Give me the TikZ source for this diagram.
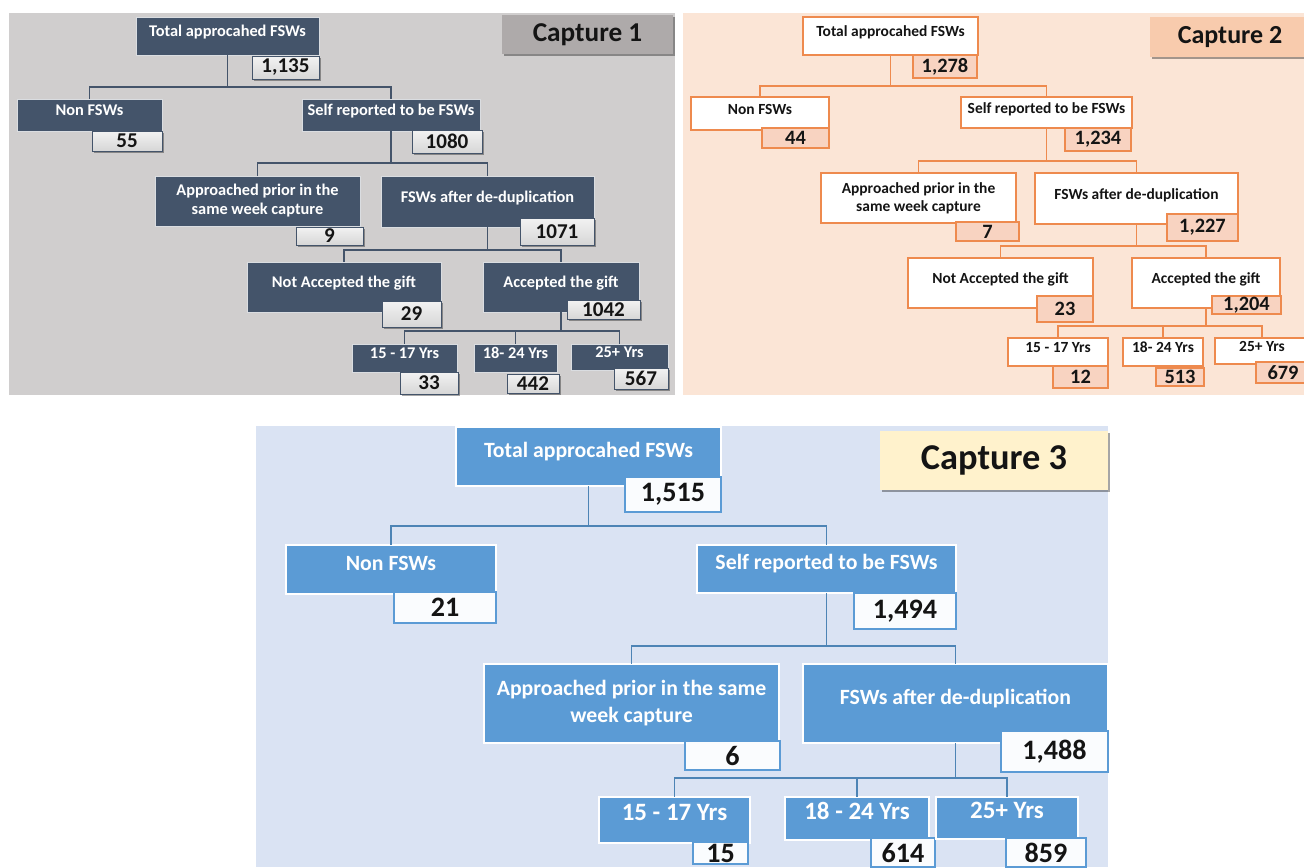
\documentclass[tikz,border=0pt]{standalone}
\usepackage{fontspec}
\setmainfont{Carlito}
\usetikzlibrary{shadows}
\definecolor{Slate}{HTML}{44546A}
\definecolor{GreyBg}{HTML}{D0CECE}
\definecolor{GreyTag}{HTML}{AEAAAA}
\definecolor{Peach}{HTML}{FBE5D6}
\definecolor{PeachNum}{HTML}{F8D3C1}
\definecolor{PeachTag}{HTML}{F8CBAD}
\definecolor{Orange}{HTML}{EE8A4E}
\definecolor{SkyBg}{HTML}{DAE3F3}
\definecolor{Sky}{HTML}{5B9BD5}
\definecolor{Cream}{HTML}{FFF2CC}
\definecolor{Ink}{HTML}{141414}

\begin{document}
\begin{tikzpicture}[
        x=0.02cm, y=-0.02cm,
        wh/.style 2 args={minimum width=#1*0.02cm, minimum height=#2*0.02cm},
        every node/.style={anchor=north west, inner sep=0.5pt, outer sep=0pt},
        shade/.style={drop shadow={shadow xshift=1.3pt, shadow yshift=-1.3pt, opacity=.35, fill=black}},
        % capture 1
        greybase/.style={draw=white!80!Slate, line width=0.5pt, fill=Slate, text=white, font=\bfseries\fontsize{9.3}{10.8}\selectfont},
        greybox/.style={greybase, text height=7pt, text depth=6.4pt},
        greynum/.style={draw=Slate, line width=0.5pt, top color=white!95!black, bottom color=white!84!black, text=Ink, shade, font=\bfseries\fontsize{12}{14}\selectfont},
        greytag/.style={fill=GreyTag, text=Ink, shade, font=\bfseries\fontsize{15.5}{18}\selectfont},
        gline/.style={draw=Slate, line width=0.7pt},
        % capture 2
        peachbase/.style={draw=Orange, line width=0.6pt, fill=white, text=Ink, font=\bfseries\fontsize{8.8}{10.2}\selectfont},
        peachbox/.style={peachbase, text height=6.6pt, text depth=5.9pt},
        peachnum/.style={draw=Orange, line width=0.6pt, fill=PeachNum, text=Ink, font=\bfseries\fontsize{11.6}{13}\selectfont},
        peachtag/.style={fill=PeachTag, text=Ink, shade, font=\bfseries\fontsize{14.8}{17}\selectfont},
        pline/.style={draw=Orange, line width=0.7pt},
        % capture 3
        bluebase/.style={draw=white, line width=0.6pt, fill=Sky, text=white, font=\bfseries\fontsize{12.4}{15.4}\selectfont},
        bluebox/.style={bluebase, text height=9.3pt, text depth=8.7pt},
        bluebig/.style={font=\bfseries\fontsize{14.2}{16}\selectfont, text height=10.6pt, text depth=9.5pt},
        bluenum/.style={draw=Sky, line width=0.6pt, fill=white!97!Sky, text=Ink, font=\bfseries\fontsize{16}{18}\selectfont},
        bluetag/.style={fill=Cream, text=Ink, shade, font=\bfseries\fontsize{20.7}{24}\selectfont},
        bline/.style={draw=Sky!85!black, line width=0.9pt}
    ]
    \useasboundingbox (0,0) rectangle (1304,867);

    % ---- Capture 1 ----
    \fill[GreyBg] (9,13) rectangle (675,395);
    \node[greytag, wh={171}{39}] (cap1) at (502,15) {Capture 1};
    \node[greybox, wh={183}{38}] (tot1) at (136,17) {Total approcahed FSWs};
    \node[greynum, wh={67}{23}] (tot1n) at (252,56) {1,135};
    \node[greybox, wh={145}{32}] (non1) at (17,99) {Non FSWs};
    \node[greynum, wh={70}{20}] (non1n) at (92,131) {55};
    \node[greybox, wh={178}{32}] (self1) at (302,99) {Self reported to be FSWs};
    \node[greynum, wh={70}{23}] (self1n) at (412,130) {1080};
    \node[greybase, align=center, wh={205}{50}] (prior1) at (155,176) {Approached prior in the\\same week capture};
    \node[greynum, wh={67}{18}] (prior1n) at (296,227) {9};
    \node[greybox, wh={213}{51}] (dedup1) at (381,176) {FSWs after de-duplication};
    \node[greynum, wh={74}{27}] (dedup1n) at (520,218) {1071};
    \node[greybox, wh={194}{50}] (nogift1) at (247,262) {Not Accepted the gift};
    \node[greynum, wh={59}{26}] (nogift1n) at (382,301) {29};
    \node[greybox, wh={156}{50}] (gift1) at (483,262) {Accepted the gift};
    \node[greynum, wh={73}{19}] (gift1n) at (567,300) {1042};
    \node[greybox, wh={105}{28}] (young1) at (352,344) {15 - 17 Yrs};
    \node[greynum, wh={58}{22}] (young1n) at (400,372) {33};
    \node[greybox, wh={83}{28}] (mid1) at (474,344) {18- 24 Yrs};
    \node[greynum, wh={52}{19}] (mid1n) at (507,374) {442};
    \node[greybox, wh={97}{26}] (old1) at (571,344) {25+ Yrs};
    \node[greynum, wh={54}{21}] (old1n) at (614,368) {567};

    \draw[gline] (tot1.south) -- ++(0,32) -| (non1.north);
    \draw[gline] (tot1.south) -- ++(0,32) -| (self1.north);
    \draw[gline] (self1.south) -- ++(0,32) -| (prior1.north);
    \draw[gline] (self1.south) -- ++(0,32) -| (dedup1.north);
    \draw[gline] (dedup1.south) -- ++(0,23) -| (nogift1.north);
    \draw[gline] (dedup1.south) -- ++(0,23) -| (gift1.north);
    \draw[gline] (gift1.south) -- ++(0,19) -| (young1.north);
    \draw[gline] (gift1.south) -- ++(0,19) -| (mid1.north);
    \draw[gline] (gift1.south) -- ++(0,19) -| (old1.north);

    % ---- Capture 2 ----
    \fill[Peach] (683,13) rectangle (1304,395);
    \node[peachtag, wh={160}{40}] (cap2) at (1150,17) {Capture 2};
    \node[peachbox, wh={175}{38}] (tot2) at (803,17) {Total approcahed FSWs};
    \node[peachnum, wh={64}{23}] (tot2n) at (913,55) {1,278};
    \node[peachbox, wh={138}{33}] (non2) at (691,97) {Non FSWs};
    \node[peachnum, wh={67}{20}] (non2n) at (762,128) {44};
    \node[peachbox, wh={171}{31}] (self2) at (961,97) {Self reported to be FSWs};
    \node[peachnum, wh={66}{23}] (self2n) at (1065,128) {1,234};
    \node[peachbase, align=center, wh={195}{50}] (prior2) at (821,173) {Approached prior in the\\same week capture};
    \node[peachnum, wh={63}{19}] (prior2n) at (956,222) {7};
    \node[peachbox, wh={203}{51}] (dedup2) at (1035,173) {FSWs after de-duplication};
    \node[peachnum, wh={71}{27}] (dedup2n) at (1167,214) {1,227};
    \node[peachbox, wh={185}{50}] (nogift2) at (908,258) {Not Accepted the gift};
    \node[peachnum, wh={56}{26}] (nogift2n) at (1037,296) {23};
    \node[peachbox, wh={148}{50}] (gift2) at (1132,258) {Accepted the gift};
    \node[peachnum, wh={69}{18}] (gift2n) at (1212,296) {1,204};
    \node[peachbox, wh={100}{28}] (young2) at (1008,338) {15 - 17 Yrs};
    \node[peachnum, wh={55}{22}] (young2n) at (1053,366) {12};
    \node[peachbox, wh={80}{28}] (mid2) at (1123,338) {18- 24 Yrs};
    \node[peachnum, wh={48}{18}] (mid2n) at (1156,368) {513};
    \node[peachbox, wh={94}{26}] (old2) at (1215,338) {25+ Yrs};
    \node[peachnum, wh={54}{21}] (old2n) at (1256,362) {679};

    \draw[pline] (tot2.south) -- ++(0,31) -| (non2.north);
    \draw[pline] (tot2.south) -- ++(0,31) -| (self2.north);
    \draw[pline] (self2.south) -- ++(0,33) -| (prior2.north);
    \draw[pline] (self2.south) -- ++(0,33) -| (dedup2.north);
    \draw[pline] (dedup2.south) -- ++(0,22) -| (nogift2.north);
    \draw[pline] (dedup2.south) -- ++(0,22) -| (gift2.north);
    \draw[pline] (gift2.south) -- ++(0,18) -| (young2.north);
    \draw[pline] (gift2.south) -- ++(0,18) -| (mid2.north);
    \draw[pline] (gift2.south) -- ++(0,18) -| (old2.north);

    % ---- Capture 3 ----
    \fill[SkyBg] (256,426) rectangle (1108,867);
    \node[bluetag, wh={228}{59}] (cap3) at (880,431) {Capture 3};
    \node[bluebox, wh={265}{59}] (tot3) at (456,427) {Total approcahed FSWs};
    \node[bluenum, wh={96}{35}] (tot3n) at (625,477) {1,515};
    \node[bluebox, wh={210}{49}] (non3) at (286,545) {Non FSWs};
    \node[bluenum, wh={102}{31}] (non3n) at (394,592) {21};
    \node[bluebox, wh={259}{48}] (self3) at (697,545) {Self reported to be FSWs};
    \node[bluenum, wh={102}{36}] (self3n) at (854,593) {1,494};
    \node[bluebase, align=center, wh={295}{79}] (prior3) at (484,664) {Approached prior in the same\\week capture};
    \node[bluenum, wh={95}{29}] (prior3n) at (685,741) {6};
    \node[bluebox, wh={305}{79}] (dedup3) at (803,664) {FSWs after de-duplication};
    \node[bluenum, wh={107}{41}] (dedup3n) at (1001,731) {1,488};
    \node[bluebox, bluebig, wh={151}{46}] (young3) at (599,797) {15 - 17 Yrs};
    \node[bluenum, wh={55}{22}] (young3n) at (693,842) {15};
    \node[bluebox, bluebig, wh={144}{43}] (mid3) at (785,797) {18 - 24 Yrs};
    \node[bluenum, wh={64}{29}] (mid3n) at (871,838) {614};
    \node[bluebox, bluebig, wh={142}{42}] (old3) at (936,797) {25+ Yrs};
    \node[bluenum, wh={80}{29}] (old3n) at (1006,838) {859};

    \draw[bline] (tot3.south) -- ++(0,40) -| (non3.north);
    \draw[bline] (tot3.south) -- ++(0,40) -| (self3.north);
    \draw[bline] (self3.south) -- ++(0,53) -| (prior3.north);
    \draw[bline] (self3.south) -- ++(0,53) -| (dedup3.north);
    \draw[bline] (dedup3.south) -- ++(0,35) -| (young3.north);
    \draw[bline] (dedup3.south) -- ++(0,35) -| (mid3.north);
    \draw[bline] (dedup3.south) -- ++(0,35) -| (old3.north);
\end{tikzpicture}
\end{document}
